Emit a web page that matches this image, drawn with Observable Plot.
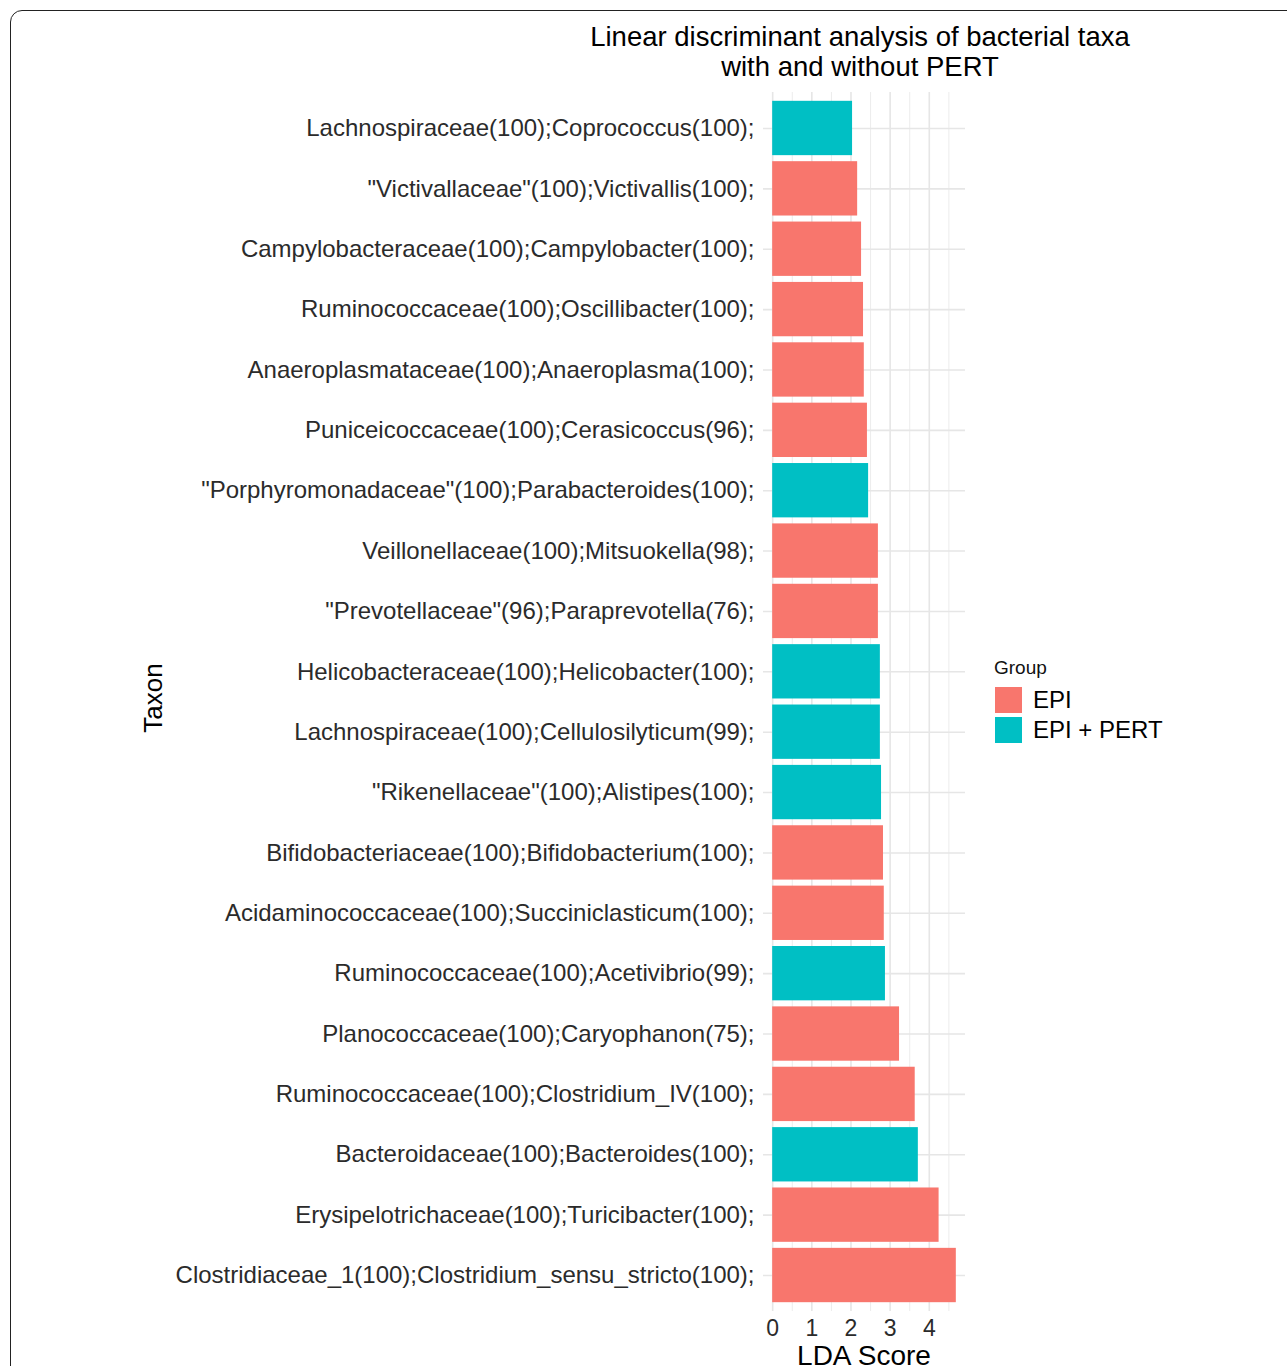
<!DOCTYPE html>
<html>
<head>
<meta charset="utf-8">
<script src="https://cdn.jsdelivr.net/npm/d3@7"></script>
<script src="https://cdn.jsdelivr.net/npm/@observablehq/plot@0.6"></script>
<style>
  html, body { margin: 0; padding: 0; background: #fff; overflow: hidden; }
  #wrap { position: relative; width: 1287px; height: 1366px; overflow: hidden; font-family: "Liberation Sans", Arial, sans-serif; }
  #frame { position: absolute; left: 10px; top: 10px; width: 1320px; height: 1420px; border: 1.5px solid #222; border-radius: 12px; box-sizing: border-box; pointer-events: none; }
  .abs { position: absolute; white-space: nowrap; color: #000; }
  .sw { position: absolute; width: 27px; height: 26px; }
</style>
</head>
<body>
<div id="wrap">
  <div id="chart"></div>
  <div class="abs" id="title" style="left:860px; top:22px; transform:translateX(-50%); font-size:27.5px; text-align:center; line-height:30px;">Linear discriminant analysis of bacterial taxa<br>with and without PERT</div>
  <div class="abs" style="left:153px; top:698px; transform:translate(-50%,-50%) rotate(-90deg); font-size:26px;">Taxon</div>
  <div class="abs" style="left:864px; top:1342px; transform:translateX(-50%); font-size:28px; line-height:1;">LDA Score</div>
  <div class="abs" style="left:994px; top:657px; font-size:19px; color:#111;">Group</div>
  <div class="sw" id="sw0" style="left:995px; top:687px;"></div>
  <div class="sw" id="sw1" style="left:995px; top:717px;"></div>
  <div class="abs" id="lg0" style="left:1033px; top:686px; font-size:24px;"></div>
  <div class="abs" id="lg1" style="left:1033px; top:716px; font-size:24px;"></div>
  <div id="frame"></div>
</div>
<script>
const taxa = [
  "Lachnospiraceae(100);Coprococcus(100);",
  "\"Victivallaceae\"(100);Victivallis(100);",
  "Campylobacteraceae(100);Campylobacter(100);",
  "Ruminococcaceae(100);Oscillibacter(100);",
  "Anaeroplasmataceae(100);Anaeroplasma(100);",
  "Puniceicoccaceae(100);Cerasicoccus(96);",
  "\"Porphyromonadaceae\"(100);Parabacteroides(100);",
  "Veillonellaceae(100);Mitsuokella(98);",
  "\"Prevotellaceae\"(96);Paraprevotella(76);",
  "Helicobacteraceae(100);Helicobacter(100);",
  "Lachnospiraceae(100);Cellulosilyticum(99);",
  "\"Rikenellaceae\"(100);Alistipes(100);",
  "Bifidobacteriaceae(100);Bifidobacterium(100);",
  "Acidaminococcaceae(100);Succiniclasticum(100);",
  "Ruminococcaceae(100);Acetivibrio(99);",
  "Planococcaceae(100);Caryophanon(75);",
  "Ruminococcaceae(100);Clostridium_IV(100);",
  "Bacteroidaceae(100);Bacteroides(100);",
  "Erysipelotrichaceae(100);Turicibacter(100);",
  "Clostridiaceae_1(100);Clostridium_sensu_stricto(100);"
];
const ldaScores = [2.04, 2.17, 2.27, 2.32, 2.34, 2.42, 2.45, 2.70, 2.70, 2.75, 2.75, 2.78, 2.83, 2.85, 2.88, 3.24, 3.64, 3.72, 4.25, 4.69];
const groups = ["EPI + PERT", "EPI", "EPI", "EPI", "EPI", "EPI", "EPI + PERT", "EPI", "EPI", "EPI + PERT", "EPI + PERT", "EPI + PERT", "EPI", "EPI", "EPI + PERT", "EPI", "EPI", "EPI + PERT", "EPI", "EPI"];
const groupNames = ["EPI", "EPI + PERT"];
const groupColors = ["#F8766D", "#00BFC4"];
const xTicks = [0, 1, 2, 3, 4];
const xMinorTicks = [0.5, 1.5, 2.5, 3.5, 4.5];

const data = taxa.map((t, i) => ({taxon: t, lda: ldaScores[i], group: groups[i]}));
const maxV = d3.max(ldaScores);
const pad = maxV * 0.05;

const chart = Plot.plot({
  width: 1287,
  height: 1366,
  marginLeft: 763,
  marginRight: 322,
  marginTop: 92,
  marginBottom: 55,
  style: {fontFamily: "'Liberation Sans', Arial, sans-serif", background: "transparent"},
  x: {domain: [-pad, maxV + pad], label: null},
  y: {domain: taxa, paddingInner: 0.1, paddingOuter: 0.146, round: false, label: null},
  color: {domain: groupNames, range: groupColors},
  marks: [
    Plot.gridX({ticks: xMinorTicks, stroke: "#ececec", strokeOpacity: 1, strokeWidth: 1}),
    Plot.gridX({ticks: xTicks, stroke: "#e6e6e6", strokeOpacity: 1, strokeWidth: 1.6}),
    Plot.gridY({stroke: "#e6e6e6", strokeOpacity: 1, strokeWidth: 1.6}),
    Plot.barX(data, {x1: 0, x2: "lda", y: "taxon", fill: "group"}),
    Plot.axisY({tickSize: 0, tickPadding: 9, fontSize: 24, fill: "#2b2b2b", label: null}),
    Plot.axisX({ticks: xTicks, tickFormat: d3.format("d"), tickSize: 0, tickPadding: 8, fontSize: 23, fill: "#2b2b2b", label: null})
  ]
});
document.getElementById("chart").appendChild(chart);

groupNames.forEach((g, i) => {
  document.getElementById("sw" + i).style.background = groupColors[i];
  document.getElementById("lg" + i).textContent = g;
});
</script>
</body>
</html>
